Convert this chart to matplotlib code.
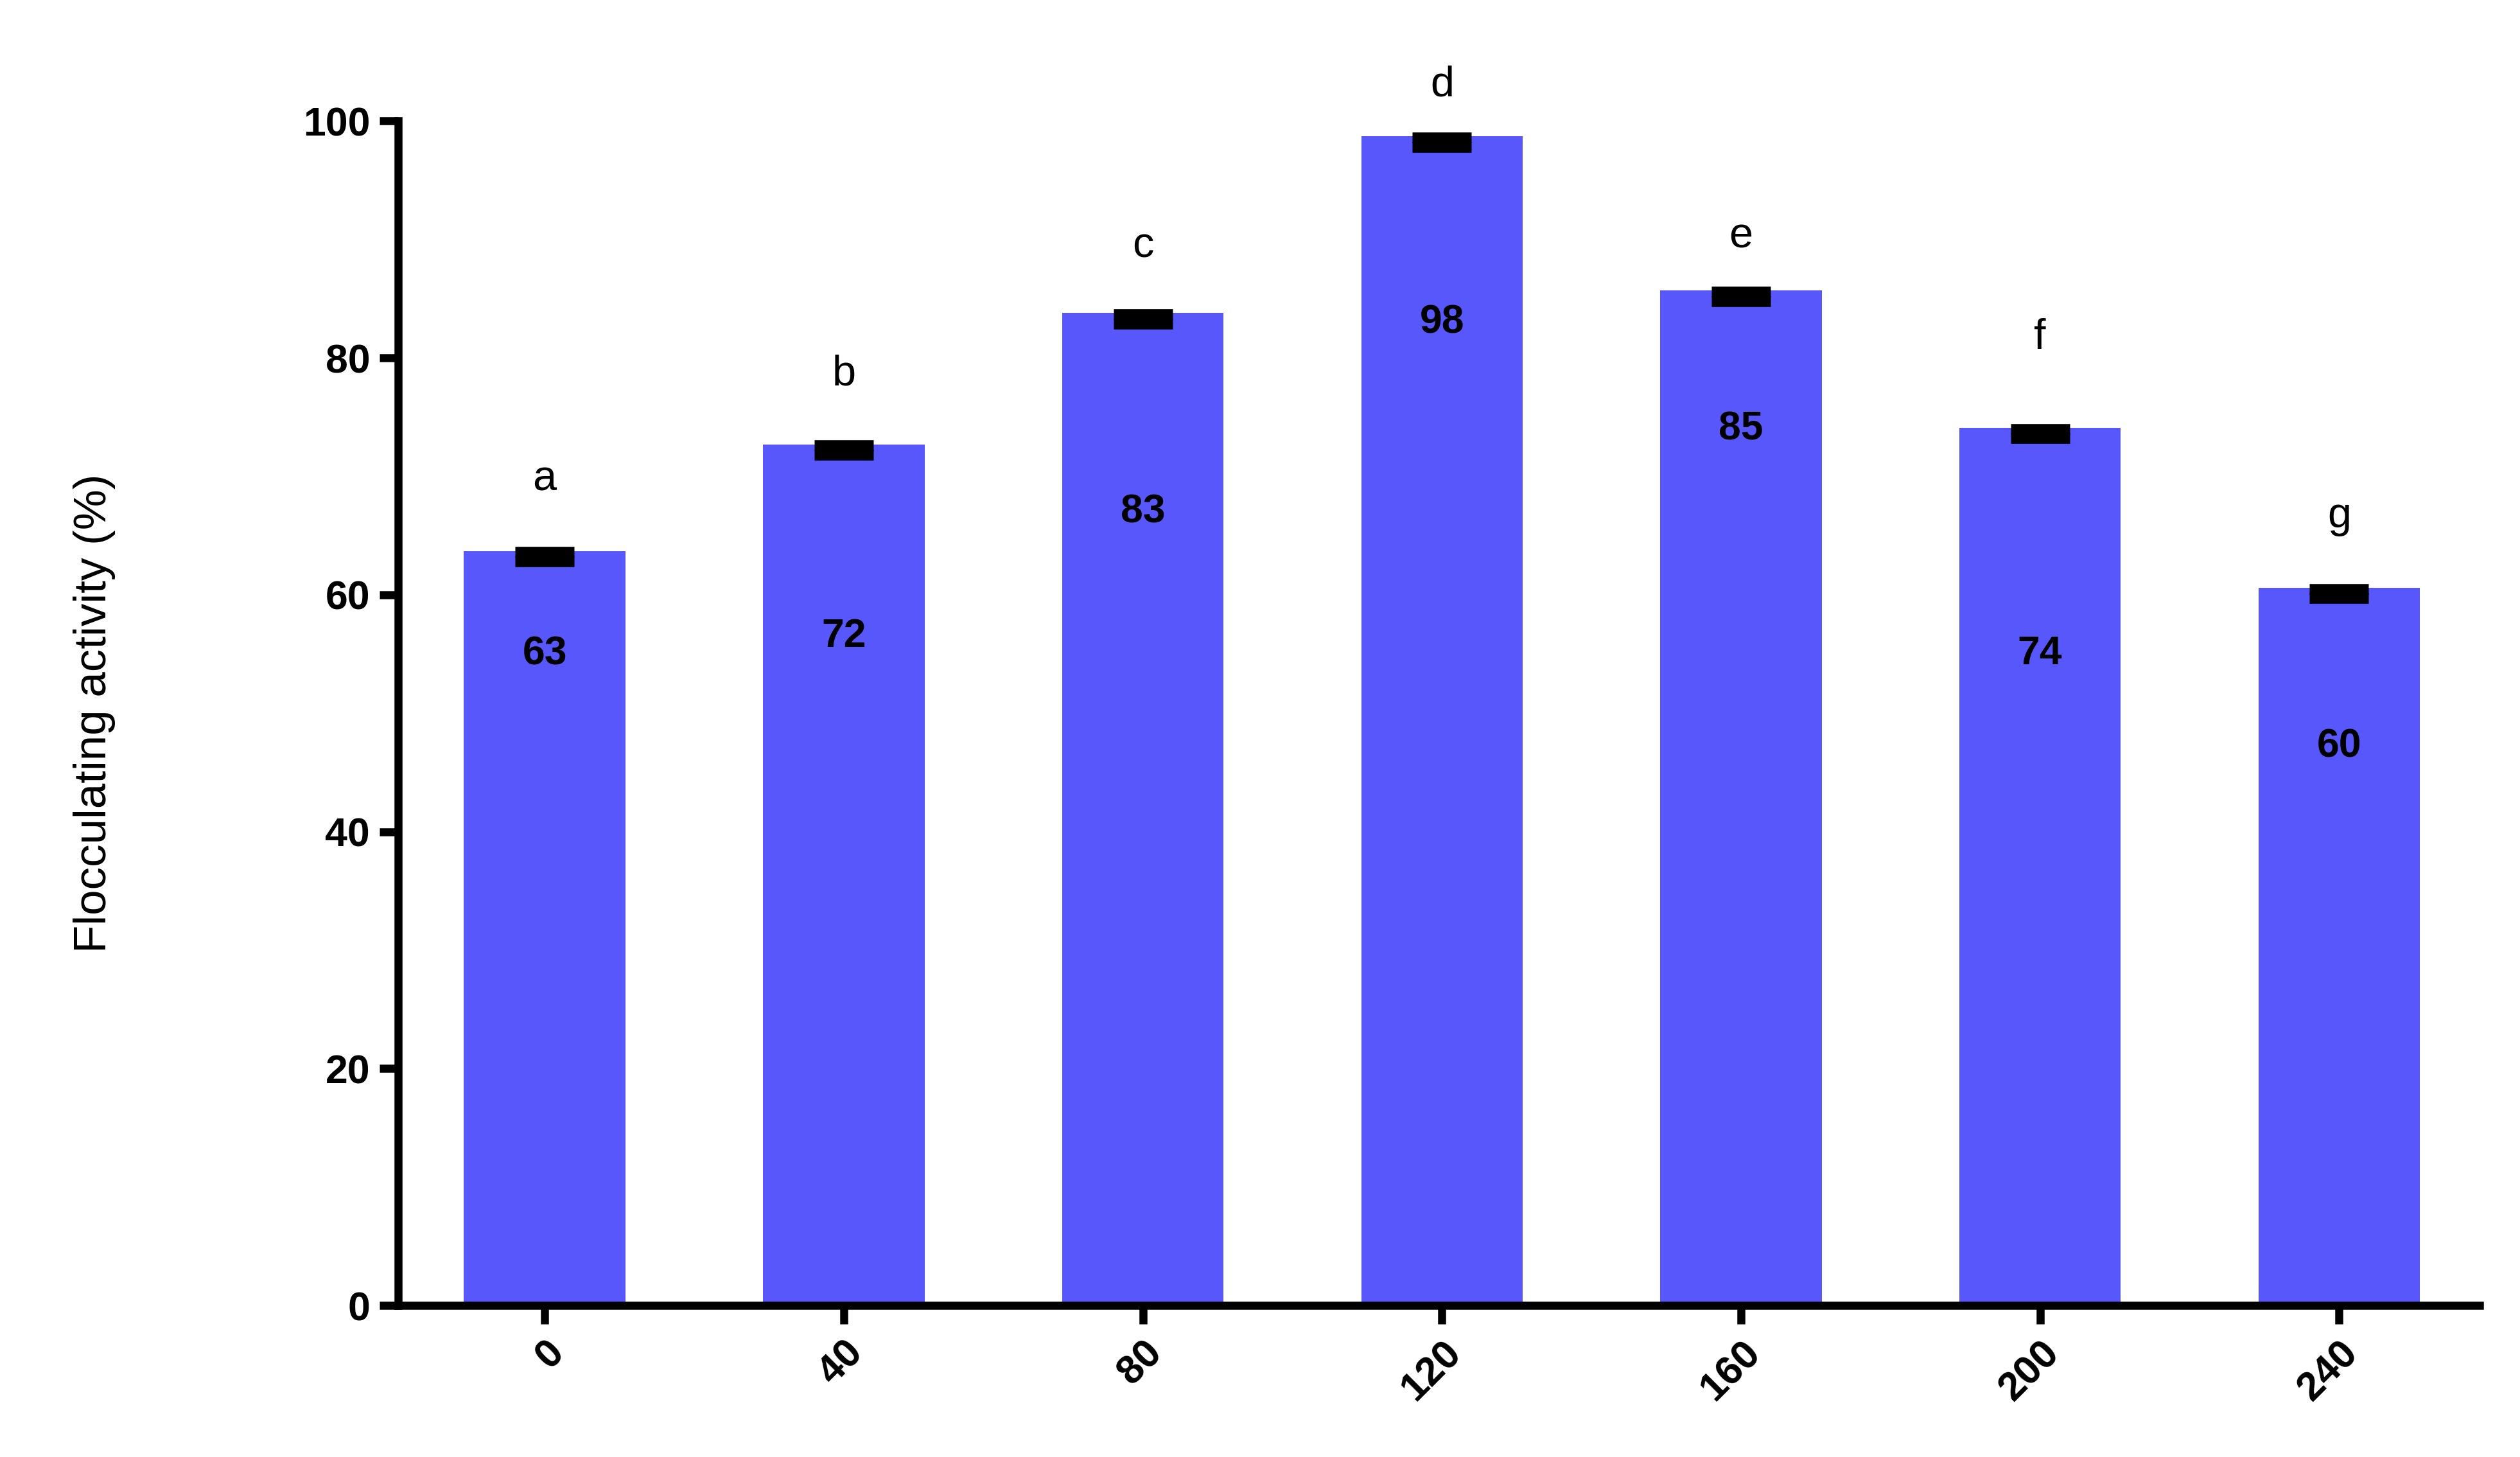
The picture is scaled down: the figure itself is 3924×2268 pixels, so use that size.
import matplotlib.pyplot as plt

# data
doses = ['0', '40', '80', '120', '160', '200', '240']
activity = [63.7, 72.7, 83.8, 98.7, 85.7, 74.1, 60.6]
err = [0.4, 0.4, 0.4, 0.4, 0.4, 0.4, 0.4]
value_labels = ['63', '72', '83', '98', '85', '74', '60']
value_label_y = [55.0, 56.5, 67.0, 83.0, 74.0, 55.0, 47.2]
letters = ['a', 'b', 'c', 'd', 'e', 'f', 'g']
letter_y = [69.7, 78.6, 89.4, 103.0, 90.2, 81.7, 66.6]

plt.rcParams['font.family'] = ['Liberation Sans', 'DejaVu Sans']
fig = plt.figure(figsize=(13.08, 7.56), dpi=300)
ax = fig.add_axes([0.158, 0.104, 0.826, 0.813])

x = list(range(len(doses)))
ax.bar(x, activity, width=0.54, color='#5757FB', zorder=1)
ax.errorbar(x, [a - 0.5 for a in activity], yerr=err, fmt='none', ecolor='black',
            capsize=11, capthick=4, elinewidth=4, zorder=2)

for i in x:
    ax.text(i, value_label_y[i], value_labels[i], ha='center', va='center',
            fontsize=15, fontweight='bold')
    ax.text(i, letter_y[i], letters[i], ha='center', va='center', fontsize=16)

ax.set_xlim(-0.49, 6.47)
ax.set_ylim(0, 100)
ax.set_yticks([0, 20, 40, 60, 80, 100])
ax.set_xticks(x)
ax.set_xticklabels(doses, rotation=45, ha='right', rotation_mode='anchor',
                   fontsize=15, fontweight='bold')
for t in ax.get_yticklabels():
    t.set_fontsize(15)
    t.set_fontweight('bold')
ax.set_ylabel('Flocculating activity (%)', fontsize=17, labelpad=70)

for s in ['top', 'right']:
    ax.spines[s].set_visible(False)
for s in ['left', 'bottom']:
    ax.spines[s].set_linewidth(3)
ax.tick_params(width=3, length=7, direction='out')
ax.spines['bottom'].set_zorder(3)

fig.savefig('out.png', dpi=300)
